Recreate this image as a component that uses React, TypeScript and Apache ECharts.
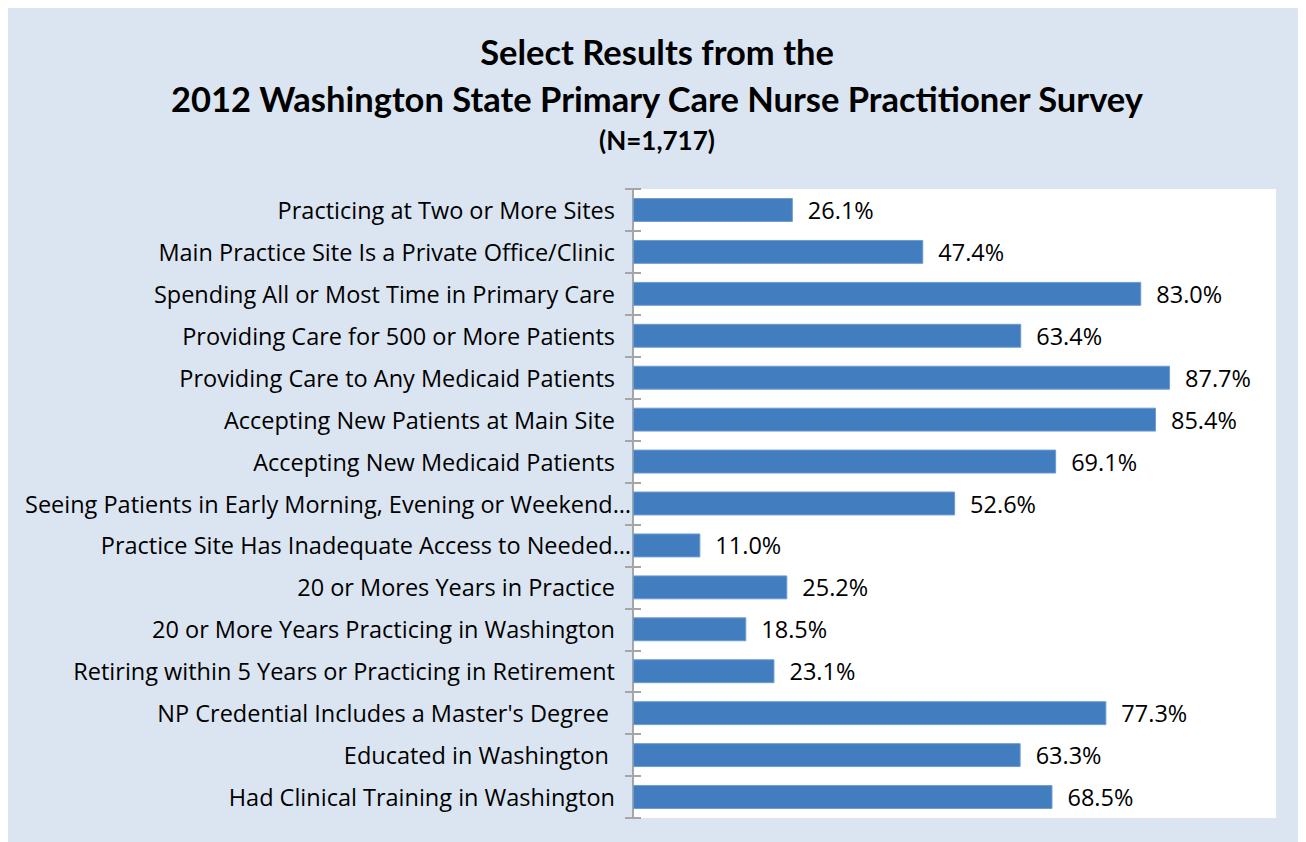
import React, { useEffect, useRef } from "react";
import * as echarts from "echarts";

const titleLine1 = "Select Results from the";
const titleLine2 = "2012 Washington State Primary Care Nurse Practitioner Survey";
const subTitle = "(N=1,717)";

const categories = [
  "Practicing at Two or More Sites",
  "Main Practice Site Is a Private Office/Clinic",
  "Spending All or Most Time in Primary Care",
  "Providing Care for 500 or More Patients",
  "Providing Care to Any Medicaid Patients",
  "Accepting New Patients at Main Site",
  "Accepting New Medicaid Patients",
  "Seeing Patients in Early Morning, Evening or Weekend…",
  "Practice Site Has Inadequate Access to Needed…",
  "20 or Mores Years in Practice",
  "20 or More Years Practicing in Washington",
  "Retiring within 5 Years or Practicing in Retirement",
  "NP Credential Includes a Master's Degree\u00a0",
  "Educated in Washington\u00a0",
  "Had Clinical Training in Washington",
];

const values = [26.1, 47.4, 83.0, 63.4, 87.7, 85.4, 69.1, 52.6, 11.0, 25.2, 18.5, 23.1, 77.3, 63.3, 68.5];

const TITLE_FONT = "Lato, 'Open Sans', sans-serif";
const FONT = "'Open Sans', Lato, sans-serif";

export default function App() {
  const ref = useRef<HTMLDivElement>(null);
  useEffect(() => {
    if (!ref.current) return;
    const chart = echarts.init(ref.current, null, { renderer: "svg" });
    const axisGray = "#A6A6A6";
    chart.setOption({
      animation: false,
      backgroundColor: "#DBE5F1",
      title: [
        {
          text: titleLine1,
          left: "center",
          top: 21,
          textStyle: { fontFamily: TITLE_FONT, fontWeight: "bold", fontSize: 34.5, color: "#000" },
        },
        {
          text: titleLine2,
          left: "center",
          top: 68,
          textStyle: { fontFamily: TITLE_FONT, fontWeight: "bold", fontSize: 34.5, color: "#000" },
        },
        {
          text: subTitle,
          left: "center",
          top: 114,
          textStyle: { fontFamily: TITLE_FONT, fontWeight: "bold", fontSize: 26, color: "#000" },
        },
      ],
      grid: {
        left: 625,
        top: 181,
        width: 643,
        height: 629,
        show: true,
        backgroundColor: "#FFFFFF",
        borderWidth: 0,
        containLabel: false,
      },
      xAxis: { type: "value", min: 0, max: 105, show: false },
      yAxis: [
        {
          type: "category",
          data: categories,
          inverse: true,
          axisLine: { show: true, lineStyle: { color: axisGray, width: 2 } },
          axisTick: { show: true, inside: false, length: 8, lineStyle: { color: axisGray, width: 2 } },
          axisLabel: {
            margin: 2,
            fontFamily: FONT,
            fontSize: 23.5,
            color: "#000",
            formatter: (v: string) => (v.endsWith("…") ? `{e|${v}}` : `{n|${v}}`),
            rich: {
              n: { fontFamily: FONT, fontSize: 23.5, color: "#000", padding: [0, 16, 0, 0] },
              e: { fontFamily: FONT, fontSize: 23.5, color: "#000", padding: [0, 0, 0, 0] },
            },
          },
          splitLine: { show: false },
        },
        {
          type: "category",
          data: categories,
          inverse: true,
          position: "left",
          axisLine: { show: false },
          axisTick: { show: true, inside: true, length: 8, lineStyle: { color: axisGray, width: 2 } },
          axisLabel: { show: false },
          splitLine: { show: false },
        },
      ],
      series: [
        {
          type: "bar",
          data: values,
          yAxisIndex: 0,
          barCategoryGap: "43%",
          itemStyle: { color: "#417DBF", borderColor: "#6E9BD0", borderWidth: 1 },
          label: {
            show: true,
            position: "right",
            distance: 15,
            fontFamily: FONT,
            fontSize: 23.5,
            color: "#000",
            formatter: (p: any) => `${Number(p.value).toFixed(1)}%`,
          },
        },
      ],
    });
    return () => chart.dispose();
  }, []);
  return <div ref={ref} style={{ width: 1298, height: 834 }} />;
}
